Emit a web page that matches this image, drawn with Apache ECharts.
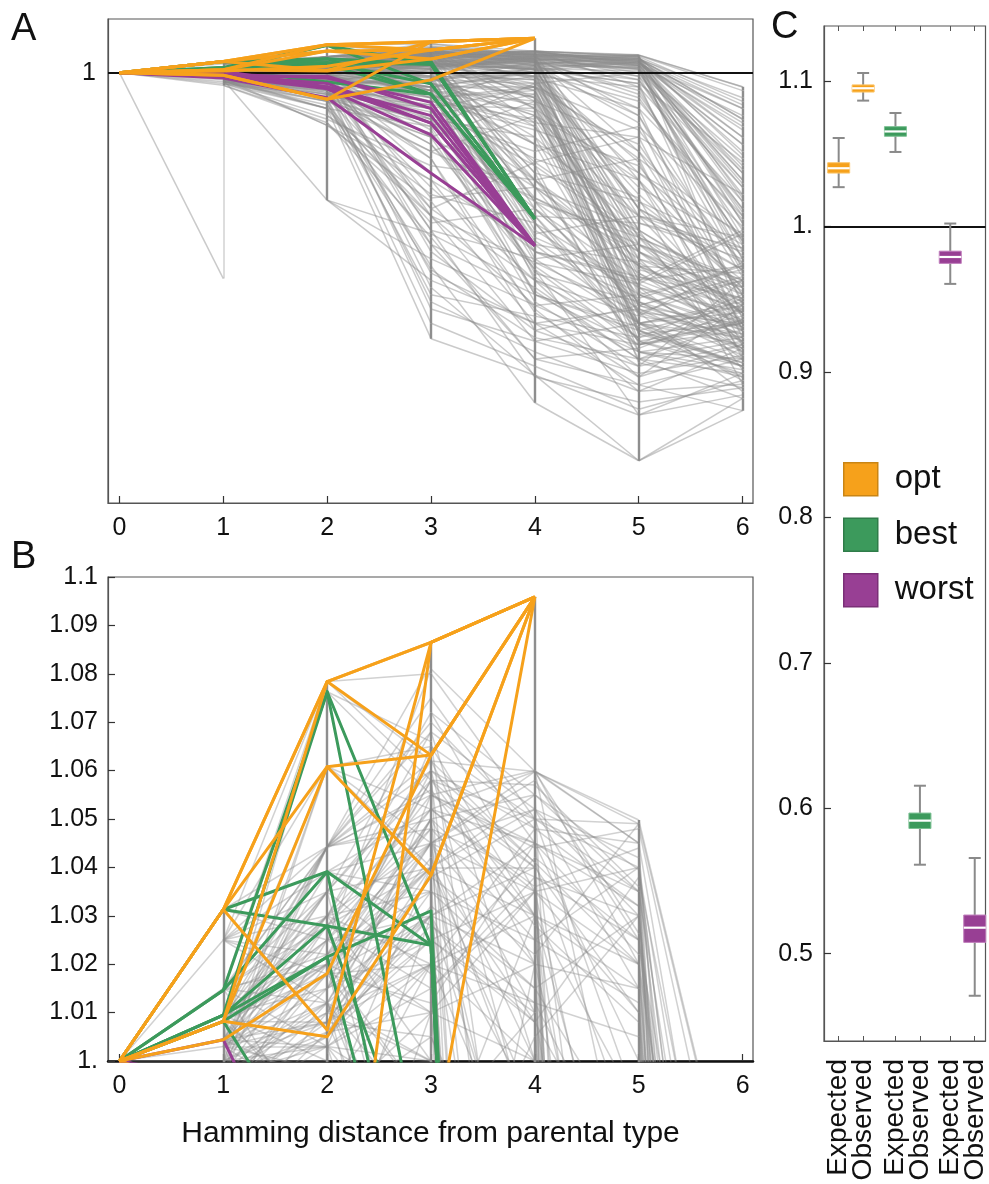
<!DOCTYPE html>
<html>
<head>
<meta charset="utf-8">
<script src="https://cdn.jsdelivr.net/npm/echarts@6/dist/echarts.min.js"></script>
<style>
  html, body { margin: 0; padding: 0; background: #fff; }
  #main { width: 989px; height: 1184px; }
</style>
</head>
<body>
<div id="main"></div>
<script>
  // Hamming distance (x) for every path position
  var hamming = [0, 1, 2, 3, 4, 5, 6];

  // tick values
  var aYTicks = [1];
  var bYTicks = [1, 1.01, 1.02, 1.03, 1.04, 1.05, 1.06, 1.07, 1.08, 1.09, 1.1];
  var cYTicks = [0.5, 0.6, 0.7, 0.8, 0.9, 1, 1.1];

  // relative fitness along mutational paths, one value per Hamming distance
  var optPaths = [
    [1, 1.0313, 1.0784, 1.0865, 1.0959],
    [1, 1.0313, 1.0784, 1.0632, 1.0959],
    [1, 1.0313, 1.0608, 1.0632, 1.0959],
    [1, 1.0082, 1.0608, 1.0384, 1.0959],
    [1, 1.0082, 1.0784, 1.0865, 1.0959],
    [1, 1.0313, 1.0064, 1.0865, 1.0959],
    [1, 1.0044, 1.0181, 1.0632, 1.0959],
    [1, 1.0082, 1.0050, 1.0384, 1.0959],
    [1, 0.9930, 0.9260, 0.9800, 1.0959],
    [1, 0.9930, 0.9260, 1.0865, 1.0959]
  ];
  var bestPaths = [
    [1, 1.0146, 1.0763, 1.0239, 0.592],
    [1, 1.0095, 1.0763, 0.9690, 0.592],
    [1, 1.0313, 1.0391, 1.0239, 0.592],
    [1, 1.0146, 1.0391, 0.9400, 0.592],
    [1, 1.0313, 1.0279, 1.0239, 0.592],
    [1, 1.0095, 1.0279, 0.9690, 0.592],
    [1, 1.0082, 1.0215, 0.9400, 0.592],
    [1, 1.0095, 1.0215, 1.0310, 0.592],
    [1, 1.0082, 0.9740, 0.9400, 0.592]
  ];
  var worstPaths = [
    [1, 0.9960, 0.985, 0.917, 0.517],
    [1, 0.9930, 0.970, 0.859, 0.517],
    [1, 0.9900, 0.955, 0.826, 0.517],
    [1, 0.9850, 0.930, 0.719, 0.517],
    [1, 0.9960, 0.960, 0.880, 0.517],
    [1, 0.9900, 0.990, 0.900, 0.517],
    [1, 1.0044, 0.960, 0.859, 0.517]
  ];
  var grayPaths = [
    [1, 1.025, 1.0443, 1.060, 1.041, 0.980, 0.620],
    [1, 1.025, 1.030, 1.052, 1.0598, 1.0498, 0.961],
    [1, 1.025, 1.012, 0.970, 0.880, 0.720, 0.550],
    [1, 1.025, 1.0784, 1.080, 1.050, 1.035, 0.900],
    [1, 1.015, 1.035, 1.072, 1.055, 1.0395, 0.870],
    [1, 1.015, 1.020, 1.045, 0.930, 0.640, 0.420],
    [1, 1.015, 1.0784, 1.062, 1.041, 1.020, 0.580],
    [1, 1.0095, 1.025, 1.081, 1.0598, 1.0264, 0.800],
    [1, 1.0095, 1.0443, 1.050, 1.030, 0.950, 0.480],
    [1, 1.0095, 1.0608, 1.045, 1.0598, 1.045, 0.650],
    [1, 1.0082, 1.008, 1.030, 0.960, 0.780, 0.330],
    [1, 1.0082, 1.0443, 1.062, 1.020, 1.015, 0.680],
    [1, 1.0044, 1.039, 1.028, 1.012, 0.970, 0.350],
    [1, 1.0044, 0.995, 1.020, 1.048, 1.045, 0.920],
    [1, 1.003, 1.018, 0.990, 0.820, 0.560, 0.380],
    [1, 1.003, 1.028, 1.015, 1.035, 1.040, 0.820],
    [1, 1.000, 1.010, 1.038, 1.050, 0.990, 0.520],
    [1, 1.000, 1.022, 1.058, 0.900, 0.700, 0.400],
    [1, 0.997, 1.028, 1.055, 1.045, 1.032, 0.740],
    [1, 0.997, 1.006, 1.035, 1.025, 0.860, 0.280],
    [1, 0.993, 1.015, 1.042, 0.985, 0.900, 0.600],
    [1, 0.993, 1.005, 1.025, 1.008, 0.620, 0.450],
    [1, 0.990, 0.950, 1.010, 1.035, 1.010, 0.500],
    [1, 0.990, 1.012, 0.960, 1.005, 1.030, 0.700],
    [1, 0.985, 0.980, 0.920, 1.020, 0.930, 0.530],
    [1, 0.980, 0.940, 0.850, 0.970, 1.000, 0.620],
    [1, 0.990, 0.990, 1.040, 0.990, 0.960, 0.440],
    [1, 0.997, 1.012, 0.985, 1.010, 0.880, 0.430],
    [1, 1.0044, 1.035, 0.950, 0.550, 0.600, 0.500],
    [1, 1.000, 1.030, 1.000, 0.750, 0.820, 0.660],
    [1, 0.993, 1.020, 0.930, 0.960, 0.680, 0.520],
    [1, 1.0095, 1.015, 1.065, 1.030, 1.015, 0.450],
    [1, 1.025, 1.022, 1.048, 1.038, 1.025, 0.900],
    [1, 1.015, 1.003, 1.055, 1.060, 1.045, 0.310],
    [1, 1.003, 1.0443, 1.075, 1.045, 0.880, 0.360],
    [1, 1.0082, 1.030, 1.068, 1.000, 0.750, 0.240],
    [1, 0.997, 1.0608, 1.040, 1.052, 1.042, 0.580],
    [1, 1.0044, 1.0784, 1.058, 1.030, 0.700, 0.300],
    [1, 1.0095, 1.0763, 1.055, 1.044, 1.048, 0.950],
    [1, 1.0146, 1.0763, 1.066, 0.920, 0.500, 0.350],
    [1, 1.0146, 1.0391, 1.052, 1.035, 0.780, 0.470],
    [1, 1.0313, 1.0784, 1.058, 1.057, 1.036, 0.860],
    [1, 1.0313, 1.0443, 1.062, 1.0598, 0.960, 0.640],
    [1, 0.990, 0.970, 0.940, 0.800, 0.600, 0.450],
    [1, 0.985, 0.930, 0.870, 0.620, 0.350, 0.250],
    [1, 0.985, 0.853, 0.700, 0.520, 0.300, 0.200],
    [1, 0.980, 0.644, 0.550, 0.400, 0.200, 0.090],
    [1, 0.980, 0.644, 0.420, 0.300, 0.128, 0.200],
    [1, 0.975, 0.900, 0.257, 0.155, -0.084, 0.056],
    [1, 0.975, 0.960, 0.800, 0.450, 0.044, 0.100],
    [1, 0.970, 0.920, 0.780, 0.650, 0.500, 0.350],
    [1, 0.970, 0.880, 0.660, 0.580, 0.400, 0.300],
    [1, 0.965, 0.860, 0.600, 0.350, 0.220, 0.150],
    [1, 0.990, 0.975, 0.720, 0.500, 0.420, 0.560],
    [1, 0.985, 0.995, 0.500, 0.280, 0.180, 0.420],
    [1, 1.000, 0.985, 0.620, 0.750, 0.550, 0.330],
    [1, 1.0082, 0.990, 0.820, 0.920, 0.800, 0.380],
    [1, 1.0095, 1.000, 0.900, 0.600, 0.250, 0.300],
    [1, 1.015, 0.980, 1.000, 0.850, 0.480, 0.220],
    [1, 0.997, 0.965, 0.680, 0.420, 0.320, 0.470],
    [1, 0.980, 0.955, 0.880, 0.780, 0.850, 0.570],
    [1, 0.975, 0.910, 0.580, 0.620, 0.360, 0.270],
    [1, 0.985, 0.945, 0.760, 0.330, 0.150, 0.350],
    [1, 0.993, 0.925, 0.460, 0.078, -0.084, 0.090],
    [1, 0.990, 0.985, 0.400, 0.155, 0.044, 0.160],
    [1, 0.980, 0.900, 0.520, 0.200, 0.128, 0.056],
    [1, 1.003, 0.960, 0.340, 0.250, 0.300, 0.180],
    [1, 0.997, 0.990, 0.960, 0.700, 0.380, 0.250],
    [1, 1.000, 1.000, 0.985, 0.880, 0.520, 0.420],
    [1, 1.0044, 1.008, 1.005, 0.950, 0.450, 0.370],
    [1, 1.0082, 1.020, 1.010, 0.800, 0.300, 0.330],
    [1, 0.993, 0.970, 1.030, 0.900, 0.280, 0.150],
    [1, 0.985, 1.010, 1.050, 0.860, 0.350, 0.290],
    [1, 0.990, 1.025, 1.025, 0.720, 0.220, 0.260],
    [1, 0.975, 0.950, 1.000, 0.930, 0.420, 0.460],
    [1, 0.970, 0.935, 0.980, 1.000, 0.560, 0.380],
    [1, 1.015, 1.012, 1.045, 1.020, 0.620, 0.320],
    [1, 1.025, 1.035, 1.060, 0.980, 0.480, 0.400],
    [1, 1.0095, 0.985, 0.950, 0.990, 0.720, 0.490],
    [1, 0.980, 0.980, 0.930, 0.950, 0.400, 0.200],
    [1, 0.997, 0.998, 0.870, 0.820, 0.330, 0.110],
    [1, 0.993, 0.945, 0.900, 0.740, 0.200, 0.250],
    [1, 1.000, 0.930, 0.780, 0.880, 0.600, 0.300],
    [1, 0.985, 0.990, 0.650, 0.680, 0.460, 0.350],
    [1, 0.975, 0.980, 0.560, 0.480, 0.520, 0.400],
    [1, 0.970, 0.900, 0.850, 0.380, 0.240, 0.300],
    [1, 0.965, 0.870, 0.740, 0.700, 0.760, 0.540],
    [1, 0.990, 0.940, 0.960, 0.960, 0.840, 0.460],
    [1, 1.003, 0.990, 1.010, 1.000, 0.920, 0.590],
    [1, 1.0044, 1.003, 0.975, 1.030, 0.900, 0.280],
    [1, 0.997, 1.010, 1.020, 0.970, 0.760, 0.200],
    [1, 1.025, 1.0443, 1.082],
    [1, 1.0095, 1.030, 1.045, 1.058],
    [1, 1.003, 1.020, 1.058, 1.050, 1.049],
    [1, 0.425],
    [1, 0.997, 1.012, 1.050, 0.620, 0.420, 0.310],
    [1, 0.993, 1.005, 1.030, 0.560, 0.380, 0.450],
    [1, 1.003, 1.018, 1.020, 0.480, 0.300, 0.260],
    [1, 1.000, 1.010, 1.000, 0.420, 0.260, 0.380],
    [1, 0.990, 0.990, 0.980, 0.650, 0.520, 0.300],
    [1, 0.985, 0.980, 0.960, 0.530, 0.340, 0.210],
    [1, 0.980, 0.940, 0.940, 0.470, 0.410, 0.550],
    [1, 0.975, 0.960, 0.910, 0.380, 0.290, 0.180],
    [1, 0.990, 0.950, 0.890, 0.700, 0.460, 0.330],
    [1, 0.997, 0.965, 0.870, 0.450, 0.240, 0.370],
    [1, 1.0044, 0.995, 0.840, 0.360, 0.180, 0.240],
    [1, 1.0082, 1.008, 0.960, 0.600, 0.580, 0.480],
    [1, 1.0095, 1.025, 1.010, 0.680, 0.330, 0.420],
    [1, 1.015, 1.020, 0.990, 0.520, 0.470, 0.290],
    [1, 1.025, 1.012, 0.930, 0.580, 0.250, 0.160],
    [1, 0.993, 1.015, 1.045, 0.740, 0.540, 0.410],
    [1, 1.0044, 1.039, 1.035, 0.640, 0.300, 0.350],
    [1, 1.003, 1.028, 0.950, 0.440, 0.360, 0.230],
    [1, 0.985, 0.930, 0.820, 0.390, 0.200, 0.310],
    [1, 0.980, 0.955, 0.800, 0.500, 0.430, 0.370],
    [1, 1.000, 1.022, 1.040, 1.040, 0.560, 0.390],
    [1, 0.997, 1.006, 1.010, 1.020, 0.500, 0.280],
    [1, 0.990, 1.012, 1.000, 0.990, 0.430, 0.340],
    [1, 0.993, 0.970, 0.980, 0.970, 0.360, 0.220],
    [1, 1.0082, 1.030, 1.045, 1.000, 0.280, 0.180],
    [1, 1.0095, 1.0443, 1.060, 1.048, 0.400, 0.330],
    [1, 1.015, 1.035, 1.040, 0.950, 0.320, 0.270],
    [1, 1.003, 1.003, 0.990, 0.930, 0.240, 0.310],
    [1, 0.985, 0.995, 0.970, 0.910, 0.190, 0.120],
    [1, 0.980, 0.980, 0.950, 0.890, 0.350, 0.430],
    [1, 1.0044, 1.008, 1.025, 1.010, 0.580, 0.510],
    [1, 0.975, 0.950, 0.920, 0.870, 0.460, 0.250],
    [1, 1.025, 1.030, 1.020, 1.030, 0.520, 0.360],
    [1, 1.0313, 1.0443, 1.050, 1.055, 0.620, 0.470],
    [1, 0.990, 0.975, 0.930, 0.850, 0.300, 0.140],
    [1, 0.997, 0.998, 1.000, 0.980, 0.660, 0.400],
    [1, 1.000, 0.985, 0.960, 1.000, 0.390, 0.230],
    [1, 0.993, 0.945, 0.880, 0.940, 0.270, 0.190],
    [1, 0.970, 0.935, 0.900, 0.960, 0.540, 0.330],
    [1, 1.0095, 1.015, 1.030, 1.040, 0.460, 0.440],
    [1, 0.980, 0.853, 0.640, 0.300, 0.340, 0.260],
    [1, 0.985, 0.900, 0.600, 0.250, 0.160, 0.210],
    [1, 0.970, 0.880, 0.700, 0.340, 0.110, 0.130],
    [1, 0.965, 0.860, 0.540, 0.200, 0.230, 0.340],
    [1, 0.980, 0.644, 0.480, 0.350, 0.380, 0.290],
    [1, 0.975, 0.910, 0.450, 0.260, 0.200, 0.160],
    [1, 0.990, 0.925, 0.380, 0.320, 0.260, 0.380],
    [1, 0.997, 0.965, 0.560, 0.150, 0.080, 0.120],
    [1, 1.000, 0.930, 0.620, 0.420, 0.150, 0.240],
    [1, 0.993, 0.975, 0.760, 0.280, 0.350, 0.420],
    [1, 1.0044, 1.020, 1.040, 1.030, 1.020, 0.880],
    [1, 1.003, 1.012, 1.030, 1.045, 1.035, 0.780],
    [1, 1.000, 1.008, 1.020, 1.012, 1.005, 0.720],
    [1, 0.997, 1.018, 1.050, 1.030, 0.990, 0.680],
    [1, 1.0082, 1.0443, 1.068, 1.052, 1.030, 0.840],
    [1, 1.0095, 1.035, 1.058, 1.040, 1.010, 0.760],
    [1, 1.015, 1.028, 1.048, 1.025, 1.040, 0.910],
    [1, 1.025, 1.039, 1.045, 1.058, 1.025, 0.690],
    [1, 1.0146, 1.022, 1.035, 1.015, 0.980, 0.560],
    [1, 1.0313, 1.025, 1.052, 1.045, 1.000, 0.610],
    [1, 0.993, 1.008, 1.038, 1.022, 1.049, 0.960],
    [1, 0.990, 1.003, 1.015, 1.038, 1.030, 0.820],
    [1, 0.985, 1.006, 1.028, 1.008, 0.970, 0.750],
    [1, 1.003, 1.035, 1.072, 1.035, 0.940, 0.530],
    [1, 1.000, 1.0608, 1.065, 1.050, 1.040, 0.870],
    [1, 0.997, 1.0443, 1.055, 1.060, 1.020, 0.730],
    [1, 1.0044, 1.030, 1.062, 1.0598, 1.049, 0.960],
    [1, 1.0082, 1.018, 1.040, 1.055, 1.035, 0.640],
    [1, 0.990, 0.990, 0.950, 0.800, 0.700, 0.210],
    [1, 0.980, 0.960, 0.900, 0.760, 0.650, 0.130],
    [1, 0.985, 0.945, 0.860, 0.680, 0.560, 0.170],
    [1, 0.975, 0.920, 0.820, 0.640, 0.540, 0.240],
    [1, 0.993, 0.990, 0.920, 0.840, 0.740, 0.380],
    [1, 1.000, 1.003, 0.940, 0.860, 0.820, 0.260],
    [1, 0.985, 0.980, 1.020, 0.700, 0.500, 0.330],
    [1, 0.990, 1.003, 1.000, 0.640, 0.440, 0.260],
    [1, 0.997, 0.990, 0.980, 0.580, 0.280, 0.350],
    [1, 1.003, 1.008, 1.040, 0.540, 0.410, 0.280],
    [1, 1.000, 0.985, 0.950, 0.500, 0.370, 0.460],
    [1, 0.993, 0.970, 0.900, 0.430, 0.220, 0.200],
    [1, 0.980, 0.940, 0.860, 0.600, 0.300, 0.240],
    [1, 0.975, 0.930, 0.830, 0.460, 0.260, 0.320],
    [1, 1.0044, 1.018, 1.060, 0.680, 0.480, 0.360],
    [1, 1.0082, 1.025, 1.030, 0.720, 0.640, 0.510],
    [1, 0.990, 0.960, 0.440, 0.300, 0.240, 0.280],
    [1, 0.985, 0.950, 0.360, 0.220, 0.110, 0.230],
    [1, 0.997, 1.006, 0.600, 0.470, 0.330, 0.300],
    [1, 1.003, 0.998, 0.520, 0.380, 0.280, 0.190],
    [1, 0.980, 0.920, 0.300, 0.180, 0.060, 0.140],
    [1, 1.000, 1.012, 1.030, 1.020, 0.440, 0.300],
    [1, 0.997, 1.003, 1.020, 1.000, 0.350, 0.250],
    [1, 0.993, 0.990, 1.005, 0.960, 0.300, 0.360],
    [1, 1.003, 1.015, 1.045, 1.035, 0.540, 0.420],
    [1, 0.990, 0.980, 0.990, 0.980, 0.250, 0.180],
    [1, 1.0095, 1.020, 1.050, 1.010, 0.380, 0.280],
    [1, 1.015, 1.030, 1.035, 1.025, 0.330, 0.230],
    [1, 0.985, 0.975, 0.970, 0.940, 0.420, 0.310],
    [1, 0.980, 0.960, 0.950, 0.920, 0.220, 0.170],
    [1, 1.0044, 1.0443, 1.055, 1.040, 0.600, 0.540],
    [1, 0.975, 0.940, 0.910, 0.900, 0.500, 0.380],
    [1, 1.025, 1.018, 1.030, 0.990, 0.270, 0.300],
    [1, 1.003, 1.015, 1.025, 1.035, 1.020, 0.700],
    [1, 0.997, 1.005, 1.032, 1.015, 1.030, 0.800],
    [1, 1.000, 1.0443, 1.048, 1.025, 1.012, 0.600],
    [1, 1.0082, 1.035, 1.018, 1.042, 1.025, 0.850],
    [1, 1.0095, 1.028, 1.040, 1.008, 1.038, 0.930],
    [1, 1.015, 1.044, 1.056, 1.028, 1.008, 0.480],
    [1, 0.993, 1.018, 1.012, 1.045, 1.022, 0.660],
    [1, 1.025, 1.0608, 1.052, 1.036, 1.044, 0.770],
    [1, 1.0044, 1.025, 1.045, 1.052, 1.015, 0.540],
    [1, 1.0146, 1.0443, 1.070, 1.048, 1.032, 0.720]
  ];

  // panel C: box positions, labels and [min, q1, median, q3, max]
  var boxPositions = [1, 2, 3.32, 4.32, 5.56, 6.56];
  var boxLabels = ['Expected', 'Observed', 'Expected', 'Observed', 'Expected', 'Observed'];
  var optBoxes = [[1.027, 1.0367, 1.040, 1.0438, 1.0608], [1.0865, 1.0924, 1.095, 1.0973, 1.1055]];
  var bestBoxes = [[1.0512, 1.062, 1.0653, 1.0686, 1.078], [0.5612, 0.5861, 0.5915, 0.5967, 0.6155]];
  var worstBoxes = [[0.9605, 0.9746, 0.979, 0.983, 1.002], [0.4711, 0.5078, 0.5179, 0.5266, 0.5658]];

  var orange = '#F6A11B', green = '#3C9A5C', purple = '#983F94', grayLine = '#8c8c8c';
  var font = 'Liberation Sans';

  var chart = echarts.init(document.getElementById('main'));

  function segments(paths) {
    var seen = {}, out = [];
    paths.forEach(function (p) {
      for (var i = 0; i < p.length - 1; i++) {
        var key = i + '|' + p[i] + '|' + p[i + 1];
        if (seen[key]) continue;
        seen[key] = true;
        out.push({ coords: [[hamming[i], p[i]], [hamming[i + 1], p[i + 1]]] });
      }
    });
    return out;
  }
  function polylines(paths) {
    return paths.map(function (p) {
      return { coords: p.map(function (v, i) { return [hamming[i], v]; }) };
    });
  }
  // vertical strokes joining the node values at each distance; wide gaps drawn light
  function verticals(paths, wide) {
    var nodes = {};
    paths.forEach(function (p) {
      p.forEach(function (v, i) {
        if (i === 0) return;
        (nodes[i] = nodes[i] || []).push(v);
      });
    });
    var out = [];
    Object.keys(nodes).forEach(function (i) {
      var vs = nodes[i].sort(function (a, b) { return a - b; });
      for (var k = 0; k < vs.length - 1; k++) {
        var gap = vs[k + 1] - vs[k];
        if (gap === 0 || (gap > 0.25) !== wide) continue;
        out.push({ coords: [[hamming[i], vs[k]], [hamming[i], vs[k + 1]]] });
      }
    });
    return out;
  }
  function linesSeries(idx, data, color, width, opacity, z, poly) {
    return {
      type: 'lines', coordinateSystem: 'cartesian2d', xAxisIndex: idx, yAxisIndex: idx,
      polyline: !!poly, clip: true, silent: true, z: z, animation: false,
      lineStyle: { color: color, width: width, opacity: opacity, cap: 'butt', join: 'round' },
      data: data
    };
  }

  var allPaths = grayPaths.concat(optPaths, bestPaths, worstPaths);
  var series = [];
  [0, 1].forEach(function (idx) {
    series.push(linesSeries(idx, segments(grayPaths), grayLine, 1.5, idx === 0 ? 0.46 : 0.4, 1));
    series.push(linesSeries(idx, verticals(allPaths, true), grayLine, 1.5, 0.4, 2));
    series.push(linesSeries(idx, verticals(allPaths, false), '#888', 2.4, 0.95, 2));
    series.push(linesSeries(idx, polylines(bestPaths), green, 3, 1, 4, true));
    series.push(linesSeries(idx, polylines(worstPaths), purple, 3, 1, 5, true));
    series.push(linesSeries(idx, polylines(optPaths), orange, 3, 1, 6, true));
  });
  // reference line at 1 in panels A and C
  [0, 2].forEach(function (idx) {
    series.push({
      type: 'line', xAxisIndex: idx, yAxisIndex: idx, data: [], z: 3, silent: true,
      markLine: { symbol: 'none', silent: true, label: { show: false }, animation: false,
        lineStyle: { color: '#111', width: 2, type: 'solid' }, data: [{ yAxis: 1 }] }
    });
  });

  function boxSeries(name, boxes, offset, color, edge) {
    return {
      type: 'custom', name: name, xAxisIndex: 2, yAxisIndex: 2, z: 5, animation: false,
      itemStyle: { color: color },
      encode: { x: 0, y: [1, 2, 3, 4, 5] },
      data: boxes.map(function (b, i) { return [boxPositions[offset + i]].concat(b); }),
      renderItem: function (params, api) {
        var x = api.value(0);
        var lo = api.coord([x, api.value(1)]), q1 = api.coord([x, api.value(2)]);
        var med = api.coord([x, api.value(3)]), q3 = api.coord([x, api.value(4)]);
        var hi = api.coord([x, api.value(5)]);
        var cx = lo[0], bw = 22, cw = 12;
        var ws = { stroke: '#8a8a8a', lineWidth: 2 };
        return {
          type: 'group', children: [
            { type: 'line', shape: { x1: cx, y1: lo[1], x2: cx, y2: hi[1] }, style: ws },
            { type: 'line', shape: { x1: cx - cw / 2, y1: lo[1], x2: cx + cw / 2, y2: lo[1] }, style: ws },
            { type: 'line', shape: { x1: cx - cw / 2, y1: hi[1], x2: cx + cw / 2, y2: hi[1] }, style: ws },
            { type: 'rect', shape: { x: cx - bw / 2, y: q3[1], width: bw, height: q1[1] - q3[1] },
              style: { fill: color, stroke: edge, lineWidth: 1 } },
            { type: 'line', shape: { x1: cx - bw / 2, y1: med[1], x2: cx + bw / 2, y2: med[1] },
              style: { stroke: '#fff', lineWidth: 2.2 } }
          ]
        };
      }
    };
  }
  series.push(boxSeries('opt', optBoxes, 0, orange, '#fbc56a'));
  series.push(boxSeries('best', bestBoxes, 2, green, '#7cc093'));
  series.push(boxSeries('worst', worstBoxes, 4, purple, '#c07fbc'));

  // one two-line label per Expected/Observed pair, centred between the pair
  var pairCenters = [0, 2, 4].map(function (k) { return (boxPositions[k] + boxPositions[k + 1]) / 2; });

  var tickLabel = { fontSize: 25, color: '#111', fontFamily: font };
  function hammingAxis(gridIndex, name) {
    return {
      type: 'value', gridIndex: gridIndex, min: -0.11, max: 6.1,
      axisLine: { show: true, onZero: false, lineStyle: { color: gridIndex === 1 ? '#111' : '#555', width: gridIndex === 1 ? 2.5 : 1.2 } },
      axisTick: { show: true, inside: true, length: 7, customValues: hamming, lineStyle: { color: '#333', width: 1.2 } },
      axisLabel: Object.assign({ customValues: hamming, margin: 13 }, tickLabel),
      splitLine: { show: false },
      name: name, nameLocation: 'middle', nameGap: 58,
      nameTextStyle: { fontSize: 30, color: '#111', fontFamily: font }
    };
  }
  function fitnessAxis(gridIndex, min, max, ticks, showTicks, margin) {
    return {
      type: 'value', gridIndex: gridIndex, min: min, max: max,
      axisLine: { show: true, onZero: false, lineStyle: { color: '#555', width: 1.2 } },
      axisTick: { show: showTicks, inside: true, length: 7, customValues: ticks, lineStyle: { color: '#333', width: 1.2 } },
      axisLabel: Object.assign({
        customValues: ticks, margin: margin,
        formatter: function (v) { return v === 1 ? (gridIndex === 0 ? '1' : '1.') : String(+v.toFixed(2)); }
      }, tickLabel),
      splitLine: { show: false }
    };
  }

  var option = {
    animation: false,
    backgroundColor: '#fff',
    textStyle: { fontFamily: font },
    title: [
      { text: 'A', left: 11, top: 11, padding: 0, textStyle: { fontSize: 38, fontWeight: 'normal', color: '#111', fontFamily: font } },
      { text: 'B', left: 11, top: 539, padding: 0, textStyle: { fontSize: 38, fontWeight: 'normal', color: '#111', fontFamily: font } },
      { text: 'C', left: 771, top: 9, padding: 0, textStyle: { fontSize: 38, fontWeight: 'normal', color: '#111', fontFamily: font } }
    ],
    legend: {
      orient: 'vertical', left: 843, top: 462, padding: 0, icon: 'rect',
      itemWidth: 34, itemHeight: 33, itemGap: 21, selectedMode: false,
      textStyle: { fontSize: 33, color: '#111', fontFamily: font, lineHeight: 33, padding: [0, 0, 0, 12] },
      data: [
        { name: 'opt', itemStyle: { color: orange, borderColor: '#c98515', borderWidth: 1.5 } },
        { name: 'best', itemStyle: { color: green, borderColor: '#2f7c49', borderWidth: 1.5 } },
        { name: 'worst', itemStyle: { color: purple, borderColor: '#7a2f77', borderWidth: 1.5 } }
      ]
    },
    grid: [
      { left: 108, top: 19, width: 645, height: 484, show: true, borderColor: '#555', borderWidth: 1.2 },
      { left: 108, top: 577, width: 645, height: 484, show: true, borderColor: '#555', borderWidth: 1.2 },
      { left: 824, top: 26, width: 165, height: 1015, show: true, borderColor: '#555', borderWidth: 1.2 }
    ],
    xAxis: [
      hammingAxis(0, ''),
      hammingAxis(1, 'Hamming distance from parental type'),
      {
        type: 'value', gridIndex: 2, min: 0.4, max: 7.0,
        axisLine: { show: true, onZero: false, lineStyle: { color: '#555', width: 1.2 } },
        axisTick: { show: true, inside: true, length: 5, customValues: boxPositions, lineStyle: { color: '#555' } },
        axisLabel: {
          customValues: pairCenters, rotate: 90, margin: 18, fontSize: 28, lineHeight: 25,
          color: '#111', fontFamily: font, showMinLabel: true, showMaxLabel: true,
          formatter: function (v) {
            var k = pairCenters.indexOf(v) * 2;
            return boxLabels[k] + '\n' + boxLabels[k + 1];
          }
        },
        splitLine: { show: false }
      },
      {
        type: 'value', gridIndex: 2, min: 0.4, max: 7.0, position: 'top',
        axisLine: { show: false, onZero: false },
        axisTick: { show: true, inside: true, length: 5, customValues: boxPositions, lineStyle: { color: '#555' } },
        axisLabel: { show: false },
        splitLine: { show: false }
      }
    ],
    yAxis: [
      fitnessAxis(0, -0.202, 1.150, aYTicks, false, 12),
      fitnessAxis(1, 1, 1.1, bYTicks, true, 10),
      fitnessAxis(2, 0.44, 1.1378, cYTicks, true, 11)
    ],
    series: series
  };
  chart.setOption(option);
</script>
</body>
</html>
